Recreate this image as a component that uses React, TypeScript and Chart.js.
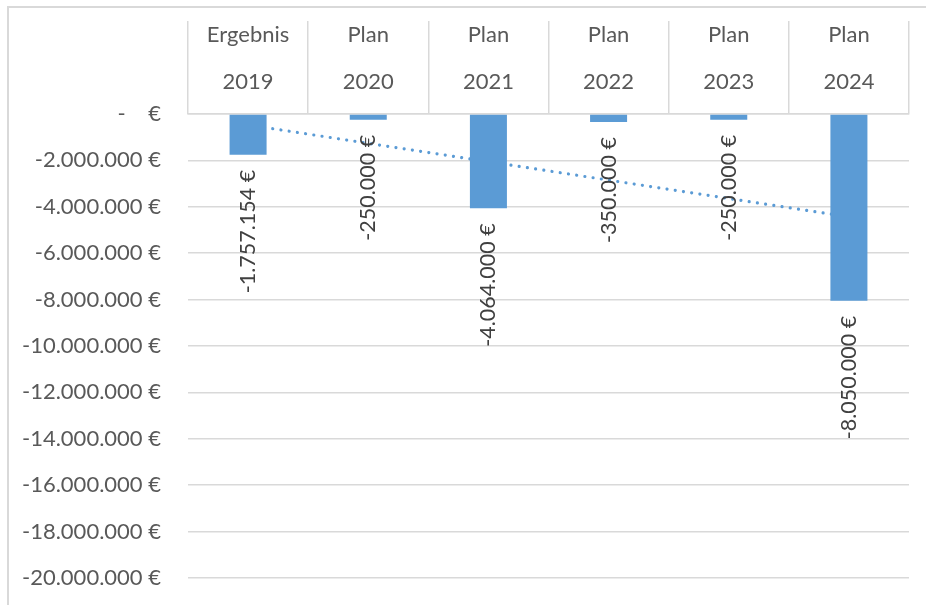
import React, { useEffect, useRef } from 'react';
import { Chart, registerables } from 'chart.js';

Chart.register(...registerables);

// ---- data ----
const categoryKinds = ['Ergebnis', 'Plan', 'Plan', 'Plan', 'Plan', 'Plan'];
const years = ['2019', '2020', '2021', '2022', '2023', '2024'];
const values = [-1757154, -250000, -4064000, -350000, -250000, -8050000];
const yMin = -20000000;
const yMax = 0;
const yStep = 2000000;

const FONT = 'Lato';
const BAR_COLOR = '#5b9bd5';
const GRID_COLOR = '#d9d9d9';

function formatEuro(v: number): string {
  if (v === 0) return '-    €';
  const s = Math.abs(Math.round(v))
    .toString()
    .replace(/\B(?=(\d{3})+(?!\d))/g, '.');
  return (v < 0 ? '-' : '') + s + ' €';
}

// Linear trendline (least squares) derived from the series values
function linearTrend(vals: number[]): number[] {
  const n = vals.length;
  const xs = vals.map((_, i) => i + 1);
  const mx = xs.reduce((a, b) => a + b, 0) / n;
  const my = vals.reduce((a, b) => a + b, 0) / n;
  let sxy = 0;
  let sxx = 0;
  for (let i = 0; i < n; i++) {
    sxy += (xs[i] - mx) * (vals[i] - my);
    sxx += (xs[i] - mx) * (xs[i] - mx);
  }
  const b = sxy / sxx;
  const a = my - b * mx;
  return xs.map((x) => a + b * x);
}

const dataLabelPlugin = {
  id: 'rotatedDataLabels',
  afterDatasetsDraw(chart: any) {
    const meta = chart.getDatasetMeta(0);
    const ctx = chart.ctx as CanvasRenderingContext2D;
    ctx.save();
    ctx.font = `21.5px ${FONT}`;
    ctx.fillStyle = '#404040';
    ctx.textAlign = 'right';
    ctx.textBaseline = 'middle';
    meta.data.forEach((el: any, i: number) => {
      const { x, y } = el.getProps(['x', 'y'], true);
      ctx.save();
      ctx.translate(x, y + 15);
      ctx.rotate(-Math.PI / 2);
      ctx.fillText(formatEuro(values[i]), 0, 0);
      ctx.restore();
    });
    ctx.restore();
  },
};

export default function App() {
  const canvasRef = useRef<HTMLCanvasElement | null>(null);

  useEffect(() => {
    if (!canvasRef.current) return;
    const labels = categoryKinds.map((k, i) => [k, years[i]]);
    const chart = new Chart(canvasRef.current, {
      type: 'bar',
      data: {
        labels,
        datasets: [
          {
            type: 'bar',
            data: values,
            backgroundColor: BAR_COLOR,
            borderWidth: 0,
            barPercentage: 0.308,
            categoryPercentage: 1,
            order: 0,
          },
          {
            type: 'line',
            data: linearTrend(values),
            borderColor: BAR_COLOR,
            borderWidth: 3.2,
            borderCapStyle: 'round',
            borderDash: [0.01, 8.3],
            pointRadius: 0,
            fill: false,
            tension: 0,
            order: 1,
          } as any,
        ],
      },
      options: {
        responsive: false,
        animation: false,
        layout: { padding: { left: 0, top: 0, right: 17, bottom: 27 } },
        plugins: {
          legend: { display: false },
          tooltip: { enabled: false },
        },
        scales: {
          x: {
            position: 'top',
            offset: true,
            grid: {
              offset: true,
              drawOnChartArea: false,
              drawTicks: true,
              tickLength: 93,
              color: GRID_COLOR,
              lineWidth: 1.5,
            },
            border: { display: true, color: GRID_COLOR, width: 1.5 },
            ticks: {
              padding: -84,
              autoSkip: false,
              maxRotation: 0,
              color: '#595959',
              font: { family: FONT, size: 22, lineHeight: 47 / 22 },
            },
            afterFit: (s: any) => {
              s.height = 114;
            },
          },
          y: {
            min: yMin,
            max: yMax,
            grid: {
              color: GRID_COLOR,
              lineWidth: 1.5,
              drawTicks: true,
              tickLength: 27,
              tickColor: 'rgba(0,0,0,0)',
            },
            border: { display: false },
            ticks: {
              stepSize: yStep,
              padding: 0,
              color: '#595959',
              font: { family: FONT, size: 22 },
              callback: (v: any) => formatEuro(Number(v)),
            },
            afterFit: (s: any) => {
              s.width = 188;
            },
          },
        },
      },
      plugins: [dataLabelPlugin],
    } as any);
    return () => chart.destroy();
  }, []);

  return (
    <div
      style={{
        position: 'fixed',
        left: 0,
        top: 0,
        width: 926,
        height: 605,
        overflow: 'hidden',
        background: '#fff',
      }}
    >
      <div
        style={{
          position: 'absolute',
          left: 7,
          top: 6,
          width: 1000,
          height: 1000,
          border: `2px solid ${GRID_COLOR}`,
        }}
      />
      <canvas
        ref={canvasRef}
        width={926}
        height={605}
        style={{ position: 'absolute', left: 0, top: 0 }}
      />
    </div>
  );
}
